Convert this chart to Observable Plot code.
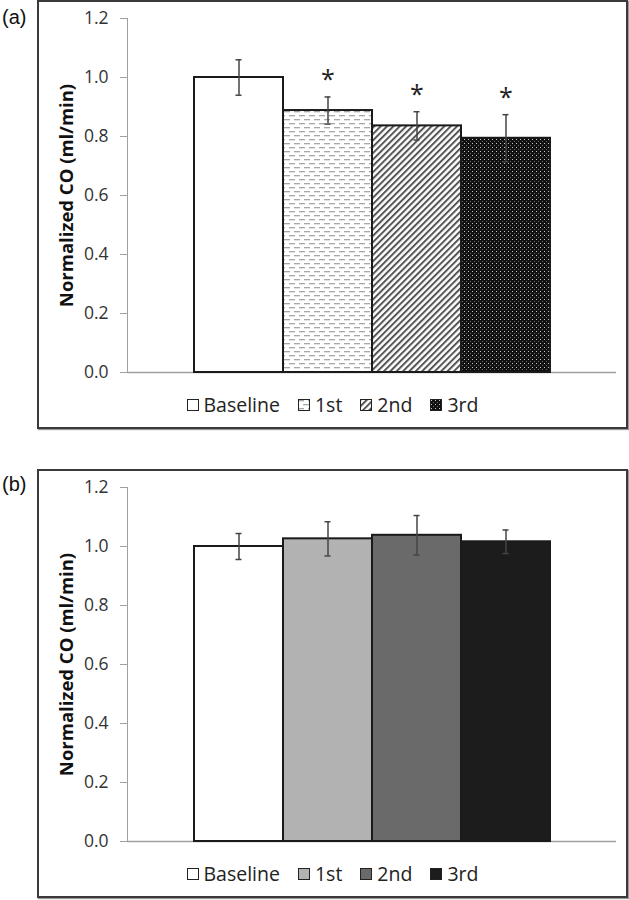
<!DOCTYPE html>
<html><head><meta charset="utf-8">
<script src="https://cdn.jsdelivr.net/npm/d3@7"></script>
<script src="https://cdn.jsdelivr.net/npm/@observablehq/plot@0.6"></script>
<style>
body{margin:0;background:#fff;width:629px;height:900px;position:relative;font-family:"Open Sans",sans-serif;overflow:hidden}
.panel-label{position:absolute;left:2px;font:20px "Liberation Sans",Arial,sans-serif;color:#111;line-height:22px}
.box{position:absolute;left:37px;width:587px;border:2px solid #3a3a3a;box-shadow:1px 1px 1px #999;background:#fff}
.box svg.plot{position:absolute;left:0;top:0}
.legend{position:absolute;left:0;right:0;display:flex;justify-content:center;gap:18px;font-size:19.5px;color:#222;line-height:24px}
.item{display:flex;align-items:center;gap:5px}
.item svg{display:block}
</style></head><body>
<svg width="0" height="0" style="position:absolute">
  <defs>
    <pattern id="pDash" width="10" height="8" patternUnits="userSpaceOnUse">
      <rect width="10" height="8" fill="#fff"/>
      <rect x="0" y="1" width="6" height="1.3" fill="#a8a8a8"/>
      <rect x="5" y="5" width="6" height="1.3" fill="#a8a8a8"/>
      <rect x="-5" y="5" width="6" height="1.3" fill="#a8a8a8"/>
    </pattern>
    <pattern id="pDiag" width="4.5" height="4.5" patternUnits="userSpaceOnUse" patternTransform="rotate(45)">
      <rect width="4.5" height="4.5" fill="#fff"/>
      <rect x="0" y="0" width="2" height="4.5" fill="#555"/>
    </pattern>
    <pattern id="pDots" width="4" height="4" patternUnits="userSpaceOnUse">
      <rect width="4" height="4" fill="#111"/>
      <rect x="1" y="1" width="1" height="1" fill="#c8c8c8"/>
      <rect x="3" y="3" width="1" height="1" fill="#6a6a6a"/>
    </pattern>
  </defs>
</svg>
<div class="panel-label" style="top:6px">(a)</div>
<div class="box" id="boxA" style="top:0;height:425px"></div>
<div class="panel-label" style="top:473px">(b)</div>
<div class="box" id="boxB" style="top:469px;height:425px"></div>
<script>
const categories = ["Baseline", "1st", "2nd", "3rd"];
const valuesA = [1.0, 0.888, 0.836, 0.794];
const errorsA = [0.06, 0.046, 0.048, 0.08];
const starsA = ["", "*", "*", "*"];
const valuesB = [1.0, 1.026, 1.038, 1.016];
const errorsB = [0.044, 0.058, 0.067, 0.04];
const starsB = ["", "", "", ""];
const fillsA = ["#ffffff", "url(#pDash)", "url(#pDiag)", "url(#pDots)"];
const fillsB = ["#ffffff", "#b2b2b2", "#6a6a6a", "#1c1c1c"];
const yTicks = [0, 0.2, 0.4, 0.6, 0.8, 1.0, 1.2];
const yLabel = "Normalized CO (ml/min)";

function chart(values, errors, fills, stars) {
  const data = categories.map((c, i) => ({
    cat: c, v: values[i], lo: values[i] - errors[i], hi: values[i] + errors[i], star: stars[i]
  }));
  return Plot.plot({
    width: 587, height: 390,
    marginLeft: 88, marginRight: 10, marginTop: 16, marginBottom: 20,
    style: {fontFamily: "'Open Sans', sans-serif", fontSize: "17px", color: "#333", background: "transparent", overflow: "visible"},
    x: {domain: categories, paddingInner: 0, paddingOuter: 0.72, axis: null},
    y: {domain: [0, 1.2], axis: null},
    color: {domain: categories, range: fills},
    marks: [
      Plot.axisY({ticks: yTicks, tickFormat: d => d.toFixed(1), tickSize: 7, tickPadding: 12, stroke: "#a0a0a0", fill: "#333", fontSize: 17.5, label: null}),
      Plot.frame({anchor: "left", stroke: "#a0a0a0"}),
      Plot.ruleY([0], {stroke: "#a0a0a0", strokeWidth: 1.5}),
      Plot.barY(data, {x: "cat", y: "v", fill: "cat", stroke: "#1a1a1a", strokeWidth: 2}),
      Plot.ruleX(data, {x: "cat", y1: "lo", y2: "hi", stroke: "#444", strokeWidth: 1.5}),
      Plot.tickY(data, {x: "cat", y: "lo", insetLeft: 41.5, insetRight: 41.5, stroke: "#444", strokeWidth: 1.5}),
      Plot.tickY(data, {x: "cat", y: "hi", insetLeft: 41.5, insetRight: 41.5, stroke: "#444", strokeWidth: 1.5}),
      Plot.text(data, {x: "cat", y: "hi", text: "star", dy: -17, fontSize: 25, fill: "#222"}),
      Plot.text([yLabel], {text: d => d, frameAnchor: "left", rotate: -90, dx: -60, textAnchor: "middle", fontWeight: "bold", fontSize: 18.5, fill: "#111"})
    ]
  });
}

function legend(fills) {
  const div = document.createElement("div");
  div.className = "legend";
  div.style.top = "391px";
  categories.forEach((c, i) => {
    const item = document.createElement("div");
    item.className = "item";
    item.innerHTML = `<svg width="12" height="12"><rect x="0.5" y="0.5" width="11" height="11" fill="${fills[i]}" stroke="#222" stroke-width="1"/></svg><span>${c}</span>`;
    div.appendChild(item);
  });
  return div;
}

const boxA = document.getElementById("boxA");
boxA.appendChild(chart(valuesA, errorsA, fillsA, starsA));
boxA.appendChild(legend(fillsA));
const boxB = document.getElementById("boxB");
boxB.appendChild(chart(valuesB, errorsB, fillsB, starsB));
boxB.appendChild(legend(fillsB));
</script>
</body></html>
